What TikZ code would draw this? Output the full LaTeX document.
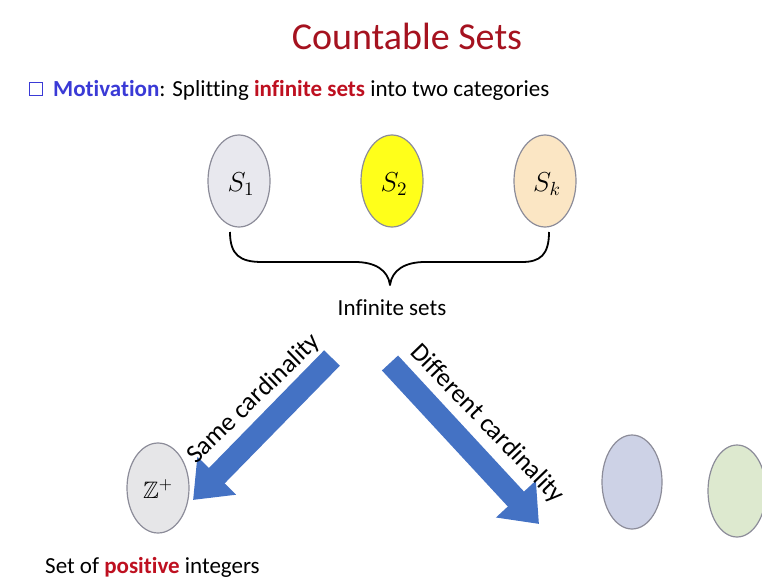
\documentclass[tikz,border=0pt]{standalone}
\usepackage{amssymb}
\usepackage{graphicx}
\usepackage{fontspec}
\setmainfont{Carlito}[Ligatures=NoCommon]
\usetikzlibrary{arrows.meta}
\definecolor{titlered}{HTML}{A5121F}
\definecolor{motblue}{HTML}{3A3AD6}
\definecolor{hired}{HTML}{BE1020}
\definecolor{arrblue}{HTML}{4472C4}
\definecolor{outl}{HTML}{8C8C99}
\definecolor{sone}{HTML}{E8E8EE}
\definecolor{stwo}{HTML}{FFFF1A}
\definecolor{sk}{HTML}{FBE6C4}
\definecolor{zp}{HTML}{E6E6E8}
\definecolor{rone}{HTML}{CDD2E6}
\definecolor{rtwo}{HTML}{DDE9CF}
\newcommand{\bigmath}[2]{\scalebox{#1}{\fontsize{14}{17}\selectfont$#2$}}
\tikzset{
  setov/.style={draw=outl, line width=1.2pt},
  fatarrow/.style={draw=arrblue, line width=22pt, -{Triangle[width=52pt,length=34pt]}},
  lbl/.style={font=\fontsize{26}{30}\selectfont, inner sep=1pt},
}
\begin{document}
\begin{tikzpicture}[x=1pt,y=-1pt]
\useasboundingbox (0,0) rectangle (762,583);
% title
\node (title) at (407,36) {\fontsize{38}{44}\selectfont\color{titlered}Countable Sets};
% motivation line
\node[draw=motblue, line width=1.8pt, minimum size=13pt, inner sep=0pt] (bullet) at (36,89) {};
\node[anchor=west, inner sep=0pt] (mot) at (53,90) {\fontsize{23}{27}\selectfont\textbf{\color{motblue}Motivation}: Splitting \textbf{\color{hired}infinite sets} into two categories};
% sets
\draw[setov, fill=sone] (239,181) ellipse [x radius=31, y radius=46];
\node (s1) at (241,184) {\bigmath{1.9}{S_1}};
\draw[setov, fill=stwo] (392,181) ellipse [x radius=31, y radius=46];
\node (s2) at (394,184) {\bigmath{1.9}{S_2}};
\draw[setov, fill=sk] (545,181) ellipse [x radius=31, y radius=46];
\node (sk) at (547,184) {\bigmath{1.9}{S_k}};
% brace
\coordinate (bl) at (230,232);
\coordinate (br) at (549,232);
\coordinate (btip) at (390,285);
\draw[line width=1.8pt, line join=round]
  (bl) .. controls (230,255) and (240,262) .. (262,262)
  -- (355,262) .. controls (375,262) and (388,270) .. (btip)
  .. controls (392,270) and (405,262) .. (425,262)
  -- (522,262) .. controls (540,262) and (549,255) .. (br);
\node (inf) at (392,308) {\fontsize{23}{27}\selectfont Infinite sets};
% arrows
\coordinate (a1s) at (332,358);
\coordinate (a1e) at (193,500);
\coordinate (a2s) at (390,363);
\coordinate (a2e) at (539,524);
\draw[fatarrow] (a1s) -- (a1e);
\draw[fatarrow] (a2s) -- (a2e);
\node[lbl, rotate=44] (same) at (254,399) {Same cardinality};
\node[lbl, rotate=-46] (diff) at (487,424) {Different cardinality};
% Z+
\draw[setov, fill=zp] (158,488) ellipse [x radius=31, y radius=45];
\node (zplus) at (158,489) {\bigmath{1.7}{\mathbb{Z}^{+}}};
\node[anchor=west, inner sep=0pt] (pos) at (45,567) {\fontsize{23}{27}\selectfont Set of \textbf{\color{hired}positive} integers};
% right sets
\draw[setov, fill=rone] (632,482) ellipse [x radius=30, y radius=47];
\draw[setov, fill=rtwo] (737,491) ellipse [x radius=29, y radius=46];
\end{tikzpicture}
\end{document}
